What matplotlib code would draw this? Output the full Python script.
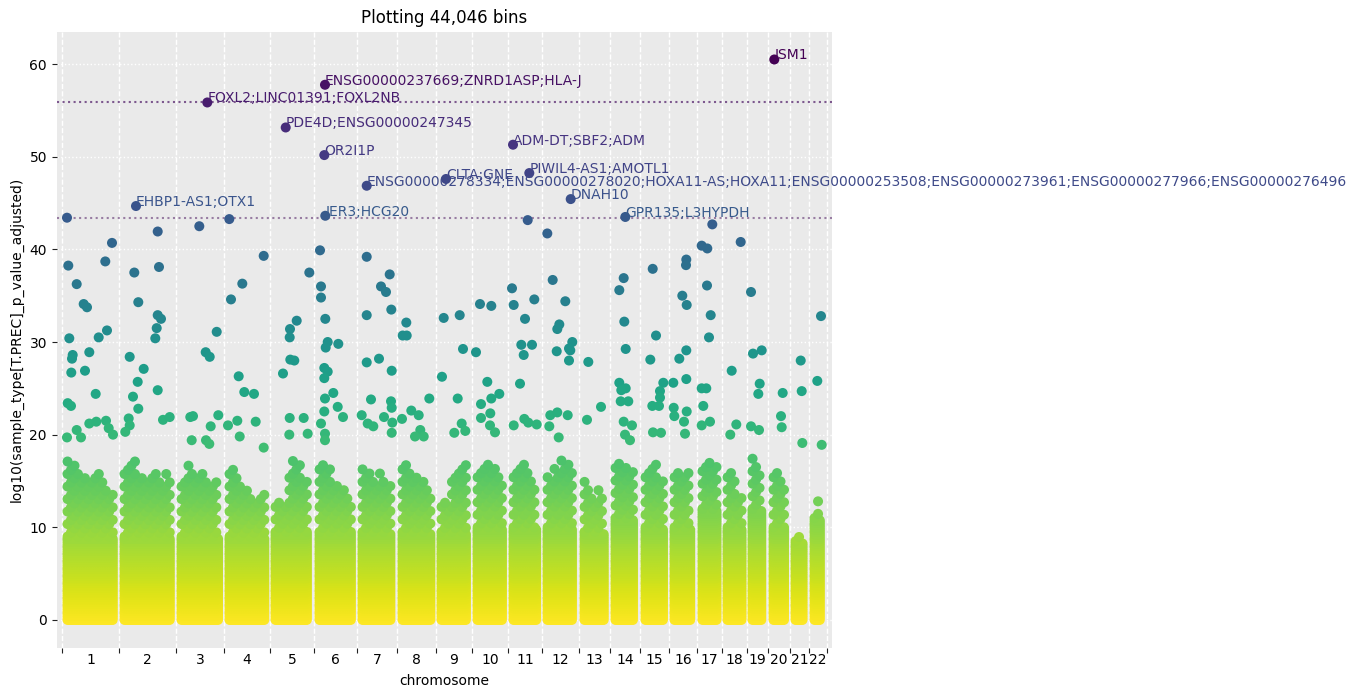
import numpy as np
import matplotlib
matplotlib.use("Agg")
import matplotlib.pyplot as plt
from matplotlib.colors import Normalize

# ---------------- data ----------------
CHROMS = [str(i) for i in range(1, 23)]
CHROM_BINS = [3282, 3282, 2764, 2649, 2533, 2476, 2303, 2246, 2073, 2073, 1958,
              2130, 1785, 1727, 1670, 1612, 1440, 1440, 1209, 1267, 1094, 1033]

# dense band: solid height and upper (sparser) envelope per chromosome segment
BAND_SOLID = [9.0, 9.0, 9.0, 9.0, 9.5, 9.5, 9.5, 9.5, 9.5, 10, 10, 10, 9.5, 11, 10, 10,
              12, 10, 12, 10, 8.5, 11]
BAND_ENV = [
    [17.5, 17, 16, 15.5, 16, 15, 14],
    [17, 17.5, 16, 15.5, 16.5, 15, 16],
    [15, 17, 15.5, 16, 14, 15.5],
    [17, 15.5, 14.5, 13.5, 13, 14],
    [13, 12.5, 16, 17.5, 17, 15],
    [17, 16.5, 15, 14.5, 13.5],
    [16.5, 15, 16, 14.5],
    [17, 16, 15, 14],
    [13, 16, 17],
    [16, 17.5, 16.5, 15.5],
    [16, 17, 16.5, 15],
    [15.5, 16.5, 17.5, 17],
    [15, 13.5, 14],
    [17, 17, 16],
    [16, 17, 15.5],
    [16, 15.5, 17],
    [17, 17.5, 17],
    [16, 15, 14],
    [17.5, 16],
    [16.5, 15],
    [9, 9],
    [12, 13],
]

# individual outlying bins (bin index, -log10 p)
OUT_BIN = [
    288, 2879, 363, 2493, 846, 1249, 1440, 420, 2113, 2591, 1572, 616, 576, 535, 1324,
    1940, 328, 518, 1572, 1975, 2534, 2689, 2937, 846, 288, 1094,
    5511, 4163, 5585, 4393, 5511, 5700, 5453, 5372, 3898, 4704, 4359, 5511, 4088, 4393,
    3841, 3898, 3645, 5816, 6201,
    7906, 8908, 8274, 8505, 7387, 7543, 9000, 8562, 7468, 8292, 8481,
    9633, 11614, 10382, 9731, 10174, 10497, 11055, 9558, 10094, 11153, 10232, 11614,
    14240, 13514, 13128, 13111, 13146, 13376, 12725, 13111, 13917, 13088, 14147,
    14856, 14913, 14913, 15161, 15299, 15184, 15909, 15103, 15299, 15103, 15621, 15143,
    15875, 16180, 15103, 14913, 15143, 15143,
    17545, 18869, 18368, 18656, 18961, 17545, 17545, 18253, 18984, 17792, 18944, 18984,
    17257, 18541, 19019, 18984, 17602, 17925,
    19825, 19617, 19848, 20113, 20539, 19577, 21149, 20631, 20326, 20827,
    21979, 22900, 23090, 21880, 22784, 23014, 23222, 22588,
    24068, 24719, 23838, 24489, 24719, 25180, 24126, 24126, 24661, 24644, 24932,
    26815, 25911, 26009, 27195, 26660, 26447, 27063, 26585, 26372, 26620, 26849, 27333, 26009,
    27944, 28254, 28980, 28635, 28519, 29383, 29193, 29268, 28485, 29193, 28116, 28519,
    29118, 28059, 28600,
    30305, 31036, 30229,
    32342, 32089, 32377, 32458, 32089, 32458, 32204, 32170, 32607, 32342, 32820, 32418, 32705,
    34013, 34203, 33875, 34623, 34432, 34432, 33990, 34375, 34030, 34490,
    35947, 35930, 35717, 35970, 35947, 35544, 35947, 35199, 35222, 35257, 35970, 35815, 35872,
    37444, 36833, 37156, 37139, 37352, 37254, 36833, 37098, 36925, 37312, 36833,
    39079, 38561, 38826, 38480,
    39673, 39788, 40289, 40173, 40093, 39673, 40133,
    41497, 41400, 41440,
    42535, 42592, 42627,
    43703, 43490, 43743,
]
OUT_VAL = [
    43.42, 40.7, 38.25, 38.7, 36.25, 34.1, 33.75, 30.4, 30.5, 31.25, 28.9, 28.6, 28.2, 26.7, 26.9,
    24.4, 23.4, 23.1, 21.2, 21.4, 21.5, 20.7, 20.0, 20.5, 19.7, 19.7,
    41.93, 37.5, 38.1, 34.3, 32.9, 32.5, 31.5, 30.4, 28.4, 27.1, 25.7, 24.8, 24.1, 22.8,
    21.75, 21.0, 20.3, 21.6, 21.9,
    42.5, 31.1, 28.9, 28.4, 21.9, 22.0, 22.1, 20.9, 19.4, 19.4, 19.0,
    43.27, 39.3, 36.3, 34.6, 26.3, 24.6, 24.4, 21.0, 21.5, 21.4, 19.8, 18.6,
    37.5, 32.3, 31.4, 30.5, 28.1, 28.0, 26.6, 21.8, 21.8, 20.0, 20.1,
    39.9, 36.0, 34.8, 32.5, 30.0, 29.4, 29.8, 27.2, 26.8, 26.1, 24.5, 23.9,
    23.0, 21.9, 22.5, 21.2, 20.1, 19.4,
    39.2, 37.3, 36.0, 35.4, 33.5, 32.9, 27.8, 28.2, 26.9, 23.8, 23.6, 22.9,
    22.1, 21.9, 21.3, 20.2, 21.2, 20.9,
    32.1, 30.7, 30.7, 22.6, 22.1, 21.7, 23.9, 20.5, 19.8, 19.8,
    32.6, 32.9, 29.25, 26.25, 23.9, 21.2, 20.4, 20.2,
    34.1, 33.9, 28.9, 25.7, 23.9, 24.4, 23.3, 21.8, 22.3, 21.0, 20.25,
    43.16, 35.8, 34.0, 34.6, 32.5, 29.7, 29.7, 28.6, 25.5, 21.7, 21.3, 21.1, 21.0,
    41.72, 36.7, 34.4, 31.9, 31.4, 30.0, 29.3, 29.1, 29.0, 28.0, 22.1, 22.4,
    22.1, 20.9, 19.7,
    27.85, 23.0, 21.6,
    36.9, 35.6, 32.2, 29.25, 25.6, 25.0, 24.8, 23.6, 23.6, 21.4, 21.0, 20.0, 19.4,
    37.9, 30.7, 28.1, 25.6, 24.7, 24.0, 23.1, 23.1, 20.25, 20.2,
    38.9, 38.3, 35.0, 34.0, 29.1, 28.2, 26.0, 25.6, 22.9, 22.0, 22.5, 21.4, 20.1,
    42.7, 40.4, 40.1, 36.1, 32.9, 30.5, 25.0, 25.0, 23.1, 21.4, 21.0,
    40.8, 26.9, 21.1, 20.0,
    35.4, 28.75, 29.1, 25.5, 24.4, 20.9, 20.5,
    24.5, 22.0, 20.8,
    28.0, 24.7, 19.1,
    32.8, 25.8, 18.9,
]

# annotated top hits
HIT_BIN = [41014, 15143, 8366, 12881, 15103, 25969, 17545, 22111, 26907, 29291,
           4261, 15160, 32435]
HIT_VAL = [60.5, 57.77, 55.86, 53.16, 50.18, 51.3, 46.87, 47.6, 48.24, 45.43,
           44.68, 43.63, 43.5]
HIT_LABEL = [
    "ISM1",
    "ENSG00000237669;ZNRD1ASP;HLA-J",
    "FOXL2;LINC01391;FOXL2NB",
    "PDE4D;ENSG00000247345",
    "OR2I1P",
    "ADM-DT;SBF2;ADM",
    "ENSG00000278334;ENSG00000278020;HOXA11-AS;HOXA11;ENSG00000253508;"
    "ENSG00000273961;ENSG00000277966;ENSG00000276496",
    "CLTA;GNE",
    "PIWIL4-AS1;AMOTL1",
    "DNAH10",
    "EHBP1-AS1;OTX1",
    "IER3;HCG20",
    "GPR135;L3HYPDH",
]
THRESHOLDS = [55.9, 43.4]

# ---------------- layout ----------------
N_BINS = sum(CHROM_BINS)
ends = np.cumsum(CHROM_BINS)
starts = ends - np.array(CHROM_BINS)
centers = (starts + ends) / 2.0
EDGE = 320
COL_STEP = 100
ROW_STEP = 0.25

bx, by = [], []
for i in range(len(CHROMS)):
    lo, hi = starts[i] + EDGE, ends[i] - EDGE
    env = BAND_ENV[i]
    cols = np.arange(lo, hi + 1, COL_STEP)
    seg = np.minimum(((cols - lo) / (hi - lo) * len(env)).astype(int), len(env) - 1)
    for k, cx in enumerate(cols):
        ys = np.arange(0, BAND_SOLID[i], ROW_STEP)
        bx.extend([cx] * len(ys)); by.extend(ys)
        if k % 2 == 0:
            off = (k // 2) % 3 * 0.45
            ys2 = np.arange(BAND_SOLID[i] + off, env[seg[k]], 1.35)
            bx.extend([cx] * len(ys2)); by.extend(ys2)
bx = np.array(bx); by = np.array(by)
order = np.argsort(by)
bx, by = bx[order], by[order]

VMAX = max(HIT_VAL)
norm = Normalize(vmin=0, vmax=VMAX)
cmap = plt.get_cmap("viridis_r")
MS = 52

fig = plt.figure(figsize=(13.57, 6.96), dpi=100)
ax = fig.add_axes([56.7 / 1357, 1 - 647.7 / 696, 775.0 / 1357, 616.0 / 696])
ax.set_facecolor("#EAEAEA")
for s in ax.spines.values():
    s.set_visible(False)

ax.scatter(bx, by, c=by, cmap=cmap, norm=norm, s=MS, linewidths=0, zorder=2)
ax.scatter(OUT_BIN, OUT_VAL, c=OUT_VAL, cmap=cmap, norm=norm, s=MS, linewidths=0, zorder=3)
ax.scatter(HIT_BIN, HIT_VAL, c=HIT_VAL, cmap=cmap, norm=norm, s=MS, linewidths=0, zorder=4)

for xb, yv, lab in zip(HIT_BIN, HIT_VAL, HIT_LABEL):
    ax.text(xb, yv, lab, color=cmap(norm(yv)), fontsize=10, zorder=5)

ax.axhline(THRESHOLDS[0], color="#6a3f7e", ls=":", lw=1.5, alpha=0.85, zorder=1.5)
ax.axhline(THRESHOLDS[1], color="#8a6a96", ls=":", lw=1.5, alpha=0.85, zorder=1.5)

ax.set_xlim(-305, N_BINS + 273)
ax.set_ylim(-3.0, 63.5)
ax.set_xticks(centers)
ax.set_xticklabels(CHROMS)
ax.set_xticks(np.concatenate([[0], ends]), minor=True)
ax.tick_params(axis="x", which="major", length=0, pad=4, labelsize=10)
ax.tick_params(axis="x", which="minor", length=3.5, width=0.8, color="#222222")
ax.set_yticks([0, 10, 20, 30, 40, 50, 60])
ax.tick_params(axis="y", which="major", length=3.5, width=0.8, color="#222222", labelsize=10)
ax.grid(axis="x", which="minor", color="white", ls="--", lw=1)
ax.grid(axis="y", which="major", color="white", ls=":", lw=1)
ax.set_axisbelow(True)

ax.set_xlabel("chromosome", labelpad=5)
ax.set_ylabel("log10(sample_type[T.PREC]_p_value_adjusted)")
ax.set_title("Plotting 44,046 bins")

fig.savefig("out.png", dpi=100)
